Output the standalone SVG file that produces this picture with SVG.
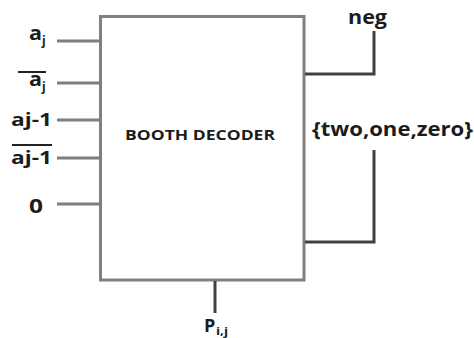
<svg xmlns="http://www.w3.org/2000/svg" width="474" height="338" viewBox="0 0 474 338">
<style>
text{font-family:"Open Sans","Liberation Sans",sans-serif;font-weight:bold;fill:#1c1c1c}
.in{stroke:#7f7f7f;stroke-width:3;fill:none}
.out{stroke:#404040;stroke-width:3;fill:none}
.bar{stroke:#222;stroke-width:2}
</style>
<rect width="474" height="338" fill="#fff"/>
<g id="booth-decoder">
<rect x="100.5" y="16.5" width="203.5" height="263.5" fill="#fff" stroke="#7f7f7f" stroke-width="3"/>
<text x="125" y="140" font-size="15" textLength="150" lengthAdjust="spacingAndGlyphs">BOOTH DECODER</text>
</g>
<g id="connectors">
<line class="in" x1="57" y1="41" x2="100" y2="41"/>
<line class="in" x1="57" y1="83" x2="100" y2="83"/>
<line class="in" x1="57" y1="120" x2="100" y2="120"/>
<line class="in" x1="57" y1="158" x2="100" y2="158"/>
<line class="in" x1="57" y1="204" x2="100" y2="204"/>
<polyline class="out" points="305,74 374,74 374,31"/>
<polyline class="out" points="305,242 374,242 374,150"/>
<line class="out" x1="215" y1="281" x2="215" y2="313"/>
</g>
<g id="in-aj">
<text x="29" y="40" font-size="20" textLength="13" lengthAdjust="spacingAndGlyphs">a</text>
<text x="42" y="45" font-size="12">j</text>
</g>
<g id="in-aj-bar">
<line class="bar" x1="18" y1="72" x2="46" y2="72"/>
<text x="29" y="86" font-size="20" textLength="13" lengthAdjust="spacingAndGlyphs">a</text>
<text x="42" y="91" font-size="12">j</text>
</g>
<g id="in-aj1">
<text x="11" y="126" font-size="17" textLength="41" lengthAdjust="spacingAndGlyphs">aj-1</text>
</g>
<g id="in-aj1-bar">
<line class="bar" x1="12" y1="145" x2="52" y2="145"/>
<text x="11" y="164" font-size="17" textLength="41" lengthAdjust="spacingAndGlyphs">aj-1</text>
</g>
<g id="in-zero">
<text x="29" y="213" font-size="19" textLength="14" lengthAdjust="spacingAndGlyphs">0</text>
</g>
<g id="out-neg">
<text x="348" y="24" font-size="20" textLength="39" lengthAdjust="spacingAndGlyphs">neg</text>
</g>
<g id="out-sel">
<text x="312" y="136" font-size="20" textLength="161" lengthAdjust="spacingAndGlyphs">{two,one,zero}</text>
</g>
<g id="out-p">
<text x="204" y="332" font-size="18">P</text>
<text x="216" y="335" font-size="11" textLength="12" lengthAdjust="spacingAndGlyphs">i,j</text>
</g>
</svg>
